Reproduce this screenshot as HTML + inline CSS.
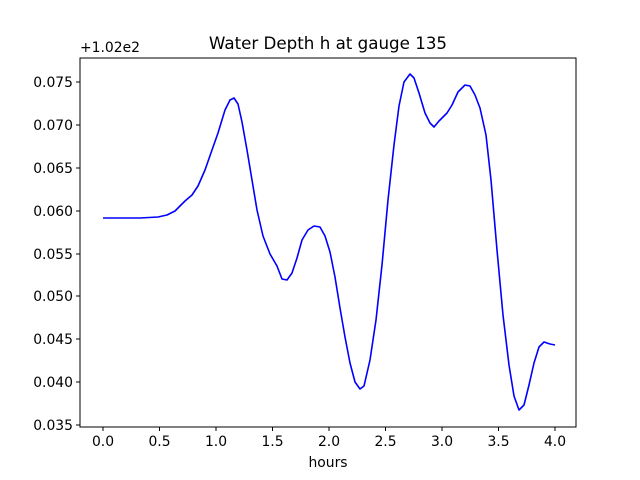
<!DOCTYPE html>
<html><head><meta charset="utf-8"><style>body{margin:0;background:#fff}svg{display:block}</style></head>
<body>
<svg width="640" height="480" viewBox="0 0 640 480" xmlns="http://www.w3.org/2000/svg" font-family="'DejaVu Sans','Liberation Sans',sans-serif">
<rect width="640" height="480" fill="#fff"/>
<polyline fill="none" stroke="#0000ff" stroke-width="1.6" stroke-linejoin="round" points="103,218 140,218 158,217 167,215 175,211 185,201 192,195 198,186 205,170 212,150 218,133 225,110 230,100 234,98 238,104 242,122 247,150 252,180 257,210 263,236 270,254 277,266 282,279 287,280 292,273 297,258 302,240 308,230 314,226 320,227 325,236 330,252 335,277 340,308 345,337 350,363 355,382 360,389 364,386 370,360 376,320 382,265 388,200 394,145 399,106 404,82 410,74 414,78 419,93 425,113 430,123 434,127 439,121 447,113 452,105 458,92 465,85 470,86 475,95 480,108 486,135 491,180 497,250 503,315 509,365 514,396 519,410 524,405 529,385 534,363 539,347 544,342 550,344 555,345"/>
<rect x="80" y="58" width="496" height="369" fill="none" stroke="#000" stroke-width="1"/>
<g stroke="#000" stroke-width="1">
<line x1="103" y1="427" x2="103" y2="431"/><line x1="159.5" y1="427" x2="159.5" y2="431"/><line x1="216" y1="427" x2="216" y2="431"/><line x1="272.5" y1="427" x2="272.5" y2="431"/><line x1="329" y1="427" x2="329" y2="431"/><line x1="385.5" y1="427" x2="385.5" y2="431"/><line x1="442" y1="427" x2="442" y2="431"/><line x1="498.5" y1="427" x2="498.5" y2="431"/><line x1="555" y1="427" x2="555" y2="431"/>
<line x1="76" y1="82" x2="80" y2="82"/><line x1="76" y1="125" x2="80" y2="125"/><line x1="76" y1="168" x2="80" y2="168"/><line x1="76" y1="211" x2="80" y2="211"/><line x1="76" y1="254" x2="80" y2="254"/><line x1="76" y1="296" x2="80" y2="296"/><line x1="76" y1="339" x2="80" y2="339"/><line x1="76" y1="382" x2="80" y2="382"/><line x1="76" y1="425" x2="80" y2="425"/>
</g>
<g font-size="13.9" fill="#000" text-anchor="middle">
<text x="103" y="446">0.0</text><text x="159.5" y="446">0.5</text><text x="216" y="446">1.0</text><text x="272.5" y="446">1.5</text><text x="329" y="446">2.0</text><text x="385.5" y="446">2.5</text><text x="442" y="446">3.0</text><text x="498.5" y="446">3.5</text><text x="555" y="446">4.0</text>
<text x="328" y="467">hours</text>
</g>
<g font-size="13.9" fill="#000" text-anchor="end">
<text x="73" y="87">0.075</text><text x="73" y="130">0.070</text><text x="73" y="173">0.065</text><text x="73" y="216">0.060</text><text x="73" y="259">0.055</text><text x="73" y="301">0.050</text><text x="73" y="344">0.045</text><text x="73" y="387">0.040</text><text x="73" y="430">0.035</text>
</g>
<text x="80" y="52" font-size="13.9">+1.02e2</text>
<text x="328" y="49" font-size="16.7" text-anchor="middle">Water Depth h at gauge 135</text>
</svg>
</body></html>
